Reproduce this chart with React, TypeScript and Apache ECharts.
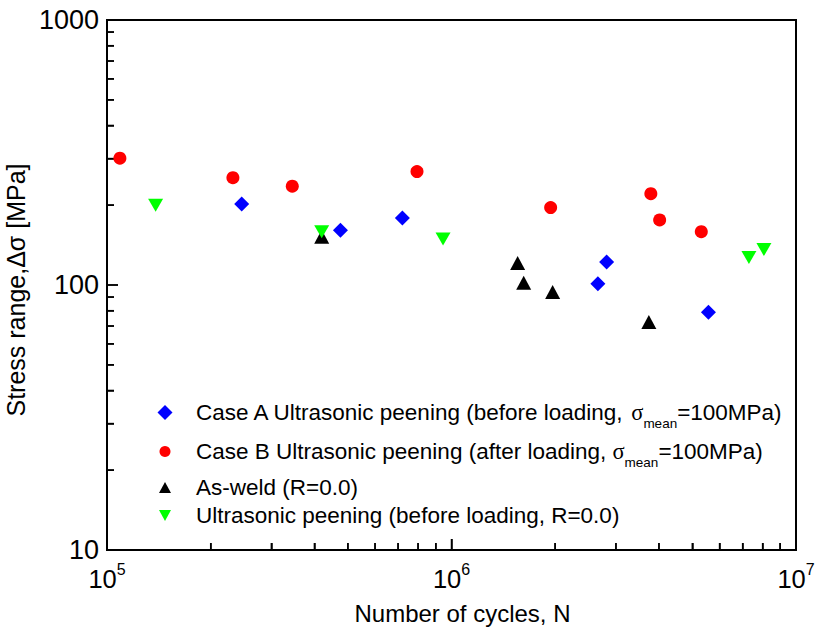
import React, { useEffect, useRef } from 'react';
import * as echarts from 'echarts';

// Fatigue test results: number of cycles N vs stress range Δσ [MPa]
const caseA_N = [2.46e5, 4.76e5, 7.2e5, 2.66e6, 2.82e6, 5.57e6];
const caseA_S = [202, 161, 179, 101, 122, 79];

const caseB_N = [1.09e5, 2.32e5, 3.45e5, 7.94e5, 1.94e6, 3.79e6, 4.02e6, 5.31e6];
const caseB_S = [301, 254, 236, 268, 196, 221, 176, 159];

const asWeld_N = [4.2e5, 1.556e6, 1.62e6, 1.966e6, 3.74e6];
const asWeld_S = [152, 121, 102, 94, 72.5];

const peenR0_N = [1.384e5, 4.2e5, 9.45e5, 7.3e6, 8.07e6];
const peenR0_S = [200, 159, 149, 127, 136];

const seriesNames = [
  'Case A Ultrasonic peening (before loading, σmean=100MPa)',
  'Case B Ultrasonic peening (after loading, σmean=100MPa)',
  'As-weld (R=0.0)',
  'Ultrasonic peening (before loading, R=0.0)',
];

// axis ranges and tick positions (decades as major ticks, 2..9 as minor ticks)
const xRange = [1e5, 1e7];
const yRange = [10, 1000];
const xMajorTicks = [1e5, 1e6, 1e7];
const yMajorTicks = [10, 100, 1000];
const xMinorTicks = [2e5, 3e5, 4e5, 5e5, 6e5, 7e5, 8e5, 9e5, 2e6, 3e6, 4e6, 5e6, 6e6, 7e6, 8e6, 9e6];
const yMinorTicks = [20, 30, 40, 50, 60, 70, 80, 90, 200, 300, 400, 500, 600, 700, 800, 900];

const FONT = "'Liberation Sans', Arial, sans-serif";
const MAJOR_LEN = 11;
const MINOR_LEN = 7;
const TICK_W = 1.5;

const pairs = (xs: number[], ys: number[]) => xs.map((x, i) => [x, ys[i]]);

const legendText = (name: string) => {
  if (name.indexOf('σmean') < 0) return name;
  const [pre, post] = name.split('σmean');
  return `{t|${pre}}{g|σ}{sub|mean}{t|${post}}`;
};

const legendRich = {
  t: { fontSize: 22.5, fontFamily: FONT, color: '#000' },
  g: { fontSize: 22.5, fontFamily: "'Liberation Serif', serif", color: '#000' },
  sub: { fontSize: 13.5, fontFamily: FONT, color: '#000', padding: [21, 0, 0, 0] },
};

const ICON_CX = 165;
const TEXT_X = 196;

const makeLegend = (name: string, top: number, w: number, h: number) => ({
  data: [name],
  orient: 'vertical',
  left: ICON_CX - w / 2,
  top,
  padding: 0,
  itemWidth: w,
  itemHeight: h,
  symbolKeepAspect: false,
  selectedMode: false,
  formatter: legendText,
  textStyle: {
    fontSize: 22.5,
    fontFamily: FONT,
    color: '#000',
    padding: [0, 0, 0, TEXT_X - (ICON_CX + w / 2 + 5)],
    rich: legendRich,
  },
});

// inward tick marks along the bottom and left frame edges
const tickMarks = (name: string, data: number[][], horizontal: boolean, len: number) => ({
  name,
  type: 'scatter',
  silent: true,
  clip: false,
  z: 1,
  symbol: 'rect',
  symbolSize: horizontal ? [len, TICK_W] : [TICK_W, len],
  symbolOffset: horizontal ? [len / 2, 0] : [0, -len / 2],
  itemStyle: { color: '#000', opacity: 1 },
  emphasis: { disabled: true },
  data,
});

const downTriangle = 'path://M0,0L16,0L8,14Z';

const option: any = {
  animation: false,
  backgroundColor: '#fff',
  grid: {
    left: 107,
    top: 20,
    width: 689,
    height: 530,
    outerBoundsMode: 'none',
    show: true,
    borderColor: '#000',
    borderWidth: 2,
  },
  legend: [
    makeLegend(seriesNames[0], 401, 15, 15),
    makeLegend(seriesNames[1], 440, 11, 11),
    makeLegend(seriesNames[2], 476, 12, 11),
    makeLegend(seriesNames[3], 504, 12, 11),
  ],
  xAxis: {
    type: 'log',
    logBase: 10,
    min: xRange[0],
    max: xRange[1],
    position: 'bottom',
    name: 'Number of cycles, N',
    nameLocation: 'middle',
    nameGap: 51,
    nameTextStyle: { fontSize: 24, fontFamily: FONT, color: '#000', padding: [0, 0, 0, 22] },
    axisLine: { show: true, onZero: false, lineStyle: { color: '#000', width: 2 } },
    axisTick: { show: true, inside: true, length: MAJOR_LEN, lineStyle: { color: '#000', width: TICK_W } },
    minorTick: { show: true, splitNumber: 9, length: MINOR_LEN, lineStyle: { color: '#000', width: TICK_W } },
    splitLine: { show: false },
    axisLabel: {
      margin: 11,
      formatter: (v: number) => `{b|10}{s|${Math.round(Math.log10(v))}}`,
      rich: {
        b: { fontSize: 25.5, fontFamily: FONT, color: '#000' },
        s: { fontSize: 16, fontFamily: FONT, color: '#000', padding: [0, 0, 19, 0] },
      },
    },
  },
  yAxis: {
    type: 'log',
    logBase: 10,
    min: yRange[0],
    max: yRange[1],
    position: 'left',
    name: 'Stress range,Δσ [MPa]',
    nameLocation: 'middle',
    nameGap: 70,
    nameTextStyle: { fontSize: 25, fontFamily: FONT, color: '#000', padding: [0, 10, 0, 0] },
    axisLine: { show: true, onZero: false, lineStyle: { color: '#000', width: 2 } },
    axisTick: { show: true, inside: true, length: MAJOR_LEN, lineStyle: { color: '#000', width: TICK_W } },
    minorTick: { show: true, splitNumber: 9, length: MINOR_LEN, lineStyle: { color: '#000', width: TICK_W } },
    splitLine: { show: false },
    axisLabel: {
      margin: 8,
      fontSize: 27,
      fontFamily: FONT,
      color: '#000',
      formatter: (v: number) => String(Math.round(v)),
    },
  },
  series: [
    tickMarks('x-major', xMajorTicks.map((v) => [v, yRange[0]]), false, MAJOR_LEN),
    tickMarks('x-minor', xMinorTicks.map((v) => [v, yRange[0]]), false, MINOR_LEN),
    tickMarks('y-major', yMajorTicks.map((v) => [xRange[0], v]), true, MAJOR_LEN),
    tickMarks('y-minor', yMinorTicks.map((v) => [xRange[0], v]), true, MINOR_LEN),
    {
      name: seriesNames[0],
      type: 'scatter',
      z: 3,
      symbol: 'diamond',
      symbolSize: [15, 15],
      itemStyle: { color: '#0000ff', opacity: 1 },
      data: pairs(caseA_N, caseA_S),
    },
    {
      name: seriesNames[1],
      type: 'scatter',
      z: 3,
      symbol: 'circle',
      symbolSize: 13,
      itemStyle: { color: '#ff0000', opacity: 1 },
      data: pairs(caseB_N, caseB_S),
    },
    {
      name: seriesNames[2],
      type: 'scatter',
      z: 3,
      symbol: 'triangle',
      symbolSize: [15, 14],
      itemStyle: { color: '#000000', opacity: 1 },
      data: pairs(asWeld_N, asWeld_S),
    },
    {
      name: seriesNames[3],
      type: 'scatter',
      z: 3,
      symbol: downTriangle,
      symbolKeepAspect: false,
      symbolSize: [15, 13],
      itemStyle: { color: '#00ff00', opacity: 1 },
      data: pairs(peenR0_N, peenR0_S),
    },
  ],
};

export default function App() {
  const ref = useRef<HTMLDivElement>(null);
  useEffect(() => {
    if (!ref.current) return;
    const chart = echarts.init(ref.current, null, { renderer: 'svg' });
    chart.setOption(option);
    return () => chart.dispose();
  }, []);
  return (
    <div
      ref={ref}
      style={{ position: 'absolute', left: 0, top: 0, width: 815, height: 628, background: '#fff' }}
    />
  );
}
